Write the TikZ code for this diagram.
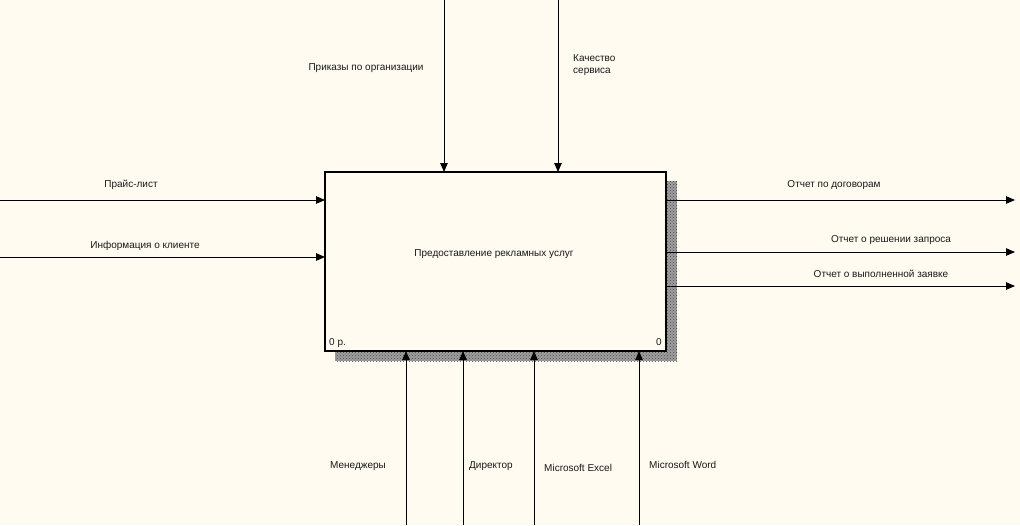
\documentclass[tikz,border=0pt]{standalone}
\usepackage{fontspec}
\setmainfont{Liberation Sans}
\usetikzlibrary{arrows.meta,patterns}
\definecolor{bg}{RGB}{255,251,240}
\tikzset{
  arr/.style={draw=black, line width=0.9pt, -{Triangle[length=9pt,width=7.5pt]}},
  lbl/.style={font=\fontsize{10}{12}\selectfont, inner sep=0pt, text=black!90},
  funcbox/.style={draw=black, line width=2pt, fill=bg, minimum width=341pt, minimum height=179pt, inner sep=0pt, outer sep=0pt},
  shadowfill/.style={fill=black!38, postaction={pattern=crosshatch dots, pattern color=black!70}}
}
\begin{document}
\begin{tikzpicture}[x=1pt,y=-1pt]
\useasboundingbox (0,0) rectangle (1020,525);
\fill[bg] (0,0) rectangle (1020,525);
% shadow
\fill[shadowfill] (666,181) rectangle (677,361);
\fill[shadowfill] (335,351) rectangle (666,361);
% box
\node[funcbox, anchor=north west] (box) at (325,172) {};
\node[lbl] (title) at (494,254) {Предоставление рекламных услуг};
\node[lbl, anchor=west] (num1) at (329,343) {0 р.};
\node[lbl, anchor=east] (num2) at (662,342) {0};
% inputs
\coordinate (i1) at (0,200);
\coordinate (i2) at (0,257);
\draw[arr] (i1) -- (i1 -| box.west);
\draw[arr] (i2) -- (i2 -| box.west);
\node[lbl] (li1) at (131,185) {Прайс-лист};
\node[lbl] (li2) at (145,246) {Информация о клиенте};
% controls
\coordinate (c1) at (444,0);
\coordinate (c2) at (558,0);
\draw[arr] (c1) -- (c1 |- box.north);
\draw[arr] (c2) -- (c2 |- box.north);
\node[lbl] (lc1) at (366,68) {Приказы по организации};
\node[lbl, anchor=north west, align=left] (lc2) at (573,54) {Качество\\сервиса};
% outputs
\coordinate (o1) at (1015,200);
\coordinate (o2) at (1015,252);
\coordinate (o3) at (1015,286);
\draw[arr] (o1 -| box.east) -- (o1);
\draw[arr] (o2 -| box.east) -- (o2);
\draw[arr] (o3 -| box.east) -- (o3);
\node[lbl] (lo1) at (834,185) {Отчет по договорам};
\node[lbl] (lo2) at (891,240) {Отчет о решении запроса};
\node[lbl] (lo3) at (881,274) {Отчет о выполненной заявке};
% mechanisms
\coordinate (m1) at (406,525);
\coordinate (m2) at (463,525);
\coordinate (m3) at (534,525);
\coordinate (m4) at (639,525);
\draw[arr] (m1) -- (m1 |- box.south);
\draw[arr] (m2) -- (m2 |- box.south);
\draw[arr] (m3) -- (m3 |- box.south);
\draw[arr] (m4) -- (m4 |- box.south);
\node[lbl, anchor=west] (lm1) at (330,466) {Менеджеры};
\node[lbl, anchor=west] (lm2) at (469,466) {Директор};
\node[lbl, anchor=west] (lm3) at (544,468) {Microsoft Excel};
\node[lbl, anchor=west] (lm4) at (649,465) {Microsoft Word};
\end{tikzpicture}
\end{document}
